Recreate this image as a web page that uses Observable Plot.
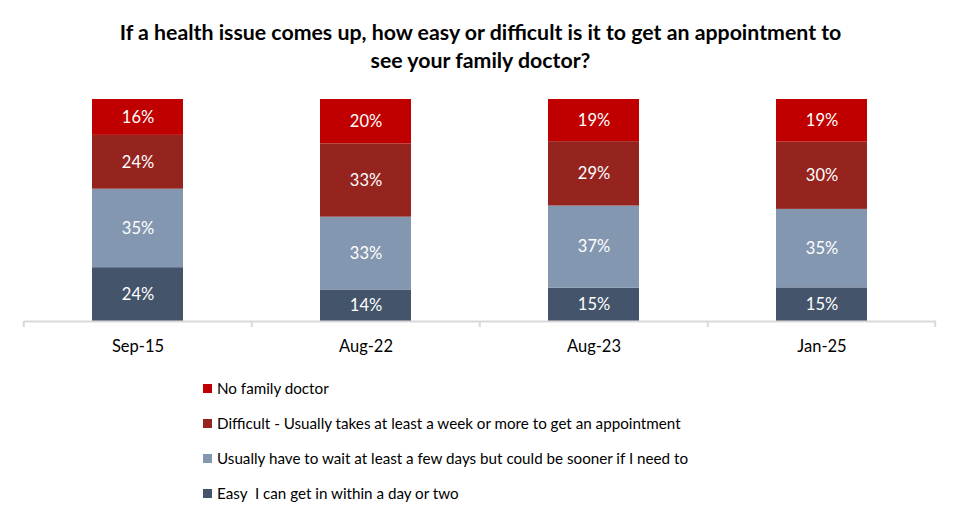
<!DOCTYPE html>
<html>
<head>
<meta charset="utf-8">
<script src="https://cdn.jsdelivr.net/npm/d3@7"></script>
<script src="https://cdn.jsdelivr.net/npm/@observablehq/plot@0.6"></script>
<style>
  body { margin: 0; background: #fff; font-family: Lato, "Open Sans", sans-serif; }
  #title { width: 961px; text-align: center; font-weight: bold; font-size: 21.3px; line-height: 28px; padding-top: 18px; color: #000; }
  #chart { margin-top: 6px; }
  #legend { margin-left: 203px; margin-top: 1px; font-size: 15.2px; color: #000; }
  .item { height: 35px; line-height: 35px; white-space: pre; display: flex; align-items: center; }
  .sw { width: 9px; height: 9px; margin-right: 5px; flex: none; }
</style>
</head>
<body>
<div id="title">If a health issue comes up, how easy or difficult is it to get an appointment to<br>see your family doctor?</div>
<div id="chart"></div>
<div id="legend"></div>
<script>
const categories = ["Sep-15", "Aug-22", "Aug-23", "Jan-25"];
const series = [
  "Easy  I can get in within a day or two",
  "Usually have to wait at least a few days but could be sooner if I need to",
  "Difficult - Usually takes at least a week or more to get an appointment",
  "No family doctor"
];
const colors = ["#44546a", "#8497b0", "#95241f", "#c00000"];
const easy = [24, 14, 15, 15];
const wait = [35, 33, 37, 35];
const difficult = [24, 33, 29, 30];
const noDoctor = [16, 20, 19, 19];

const valuesBySeries = [easy, wait, difficult, noDoctor];
const data = [];
series.forEach((s, i) => {
  categories.forEach((c, j) => data.push({category: c, series: s, value: valuesBySeries[i][j]}));
});

const stackOpts = {x: "category", y: "value", z: "series", order: series, offset: "normalize"};

const boundaryTicks = (index, scales, values, dims) => {
  const x = scales.x;
  const bw = x.bandwidth();
  const step = bw / 0.4;
  const gap = (step - bw) / 2;
  const y0 = dims.height - dims.marginBottom;
  const g = d3.create("svg:g");
  const xs = categories.map(c => x(c) - gap);
  xs.push(x(categories[categories.length - 1]) + bw + gap);
  xs.forEach(px => {
    g.append("line").attr("x1", px).attr("x2", px).attr("y1", y0).attr("y2", y0 + 6)
      .attr("stroke", "#d9d9d9").attr("stroke-width", 2);
  });
  return g.node();
};

const chart = Plot.plot({
  width: 961,
  height: 290,
  marginTop: 19,
  marginBottom: 49,
  marginLeft: 24,
  marginRight: 25,
  style: {fontFamily: "Lato, 'Open Sans', sans-serif", fontSize: "16px", color: "#000", background: "#fff"},
  x: {domain: categories, paddingInner: 0.6, paddingOuter: 0.3, label: null},
  y: {axis: null, domain: [0, 1]},
  color: {domain: series, range: colors},
  marks: [
    Plot.barY(data, Plot.stackY({...stackOpts, fill: "series"})),
    Plot.text(data, Plot.stackY({...stackOpts, text: d => d.value + "%", fill: "white", fontSize: 16.5})),
    Plot.ruleY([0], {stroke: "#d9d9d9", strokeWidth: 2}),
    boundaryTicks,
    Plot.axisX({tickSize: 0, tickPadding: 19, fontSize: 16.5, label: null})
  ]
});
document.getElementById("chart").appendChild(chart);

const legend = document.getElementById("legend");
for (let i = series.length - 1; i >= 0; i--) {
  const item = document.createElement("div");
  item.className = "item";
  const sw = document.createElement("span");
  sw.className = "sw";
  sw.style.background = colors[i];
  const t = document.createElement("span");
  t.textContent = series[i];
  item.appendChild(sw);
  item.appendChild(t);
  legend.appendChild(item);
}
</script>
</body>
</html>
